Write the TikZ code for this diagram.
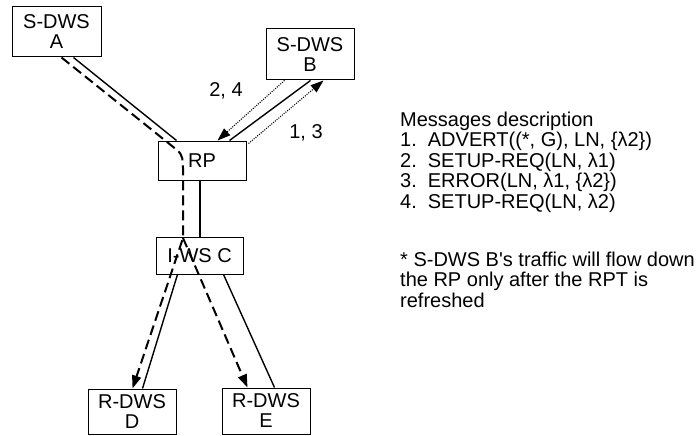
\documentclass[tikz,border=0pt]{standalone}
\usepackage{fontspec}
\setmainfont{Liberation Sans}
\usetikzlibrary{arrows.meta,calc}
\begin{document}
\begin{tikzpicture}[x=1pt,y=-1pt,
  box/.style={draw,line width=1pt,inner sep=0pt,align=center,font=\fontsize{20}{20}\selectfont},
  lab/.style={inner sep=0pt,font=\fontsize{20}{20}\selectfont},
  txt/.style={anchor=base west,inner sep=0pt,font=\fontsize{20}{20}\selectfont},
  link/.style={line width=1.4pt},
  flow/.style={line width=2pt,dash pattern=on 10pt off 5pt},
  msg/.style={line width=1.1pt,dash pattern=on 1pt off 1.3pt},
  tip/.style={-{Triangle[length=13pt,width=9pt]}}
]
\useasboundingbox (0,0) rectangle (699,436);
\node[box,minimum width=89pt,minimum height=50pt] (A) at (56.5,32) {S-DWS\\A};
\node[box,minimum width=88pt,minimum height=51pt] (B) at (310,54.5) {S-DWS\\B};
\node[box,minimum width=88pt,minimum height=39pt] (RP) at (202,160.5) {RP};
\node[box,minimum width=87pt,minimum height=37pt] (C) at (199.5,255.5) {I-WS C};
\node[box,minimum width=88pt,minimum height=45pt] (D) at (132,411.5) {R-DWS\\D};
\node[box,minimum width=88pt,minimum height=46pt] (E) at (266,411) {R-DWS\\E};

% solid links
\draw[link] ([xshift=62pt]A.south west) -- ([xshift=19pt]RP.north west);
\draw[link] ([xshift=45pt]B.south west) -- ([xshift=72pt]RP.north west);
\draw[link] ([xshift=-2pt]RP.south) -- ([xshift=0.5pt]C.north);
\draw[link] ([xshift=22pt]C.south west) -- ([xshift=55pt]D.north west);
\draw[link] ([xshift=68pt]C.south west) -- ([xshift=53pt]E.north west);

% messages
\draw[msg,tip] ([xshift=19pt]B.south west) -- ([xshift=60pt]RP.north west);
\draw[msg,tip] ([xshift=2pt,yshift=-3pt]RP.north east) -- ([xshift=58pt]B.south west);
\node[lab] (l24) at (226,91) {2, 4};
\node[lab] (l13) at (306,133) {1, 3};

% data flow
\coordinate (a1) at ([xshift=50pt]A.south west);
\coordinate (bend) at (177,150);
\coordinate (down) at (183,168);
\coordinate (split) at (183,238);
\coordinate (dtip) at ([xshift=45pt]D.north west);
\coordinate (etip) at ([xshift=26pt]E.north west);
\draw[flow,tip] (a1) -- (bend) to[out=-39,in=90] (down) -- (split) -- (dtip);
\draw[flow,tip] (split) -- (etip);

% description
\node[txt] (t0) at (400,126) {Messages description};
\node[txt] (t1) at (400,146.5) {1.\hspace{11pt}ADVERT((*, G), LN, \{λ2\})};
\node[txt] (t2) at (400,167) {2.\hspace{11pt}SETUP-REQ(LN, λ1)};
\node[txt] (t3) at (400,187.5) {3.\hspace{11pt}ERROR(LN, λ1, \{λ2\})};
\node[txt] (t4) at (400,208) {4.\hspace{11pt}SETUP-REQ(LN, λ2)};
\node[txt] (t5) at (400,266) {* S-DWS B\textquotesingle s traffic will flow down};
\node[txt] (t6) at (400,286.5) {the RP only after the RPT is};
\node[txt] (t7) at (400,307) {refreshed};
\end{tikzpicture}
\end{document}
